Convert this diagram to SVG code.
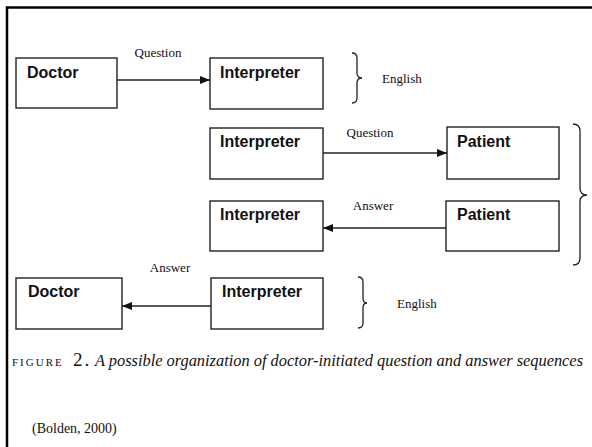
<svg xmlns="http://www.w3.org/2000/svg" width="592" height="447" viewBox="0 0 592 447">
<style>
.box{fill:#fff;stroke:#222;stroke-width:1.4}
.nt{font-family:"Liberation Sans",Arial,sans-serif;font-weight:bold;font-size:16px;fill:#111}
.lbl{font-family:"Liberation Serif","Times New Roman",serif;font-size:13px;fill:#111}
.edge{stroke:#222;stroke-width:1.3;fill:none}
.brace{stroke:#222;stroke-width:1.3;fill:none}
</style>
<defs>
<marker id="ah" viewBox="0 0 10 8" refX="10" refY="4" markerWidth="10" markerHeight="8" markerUnits="userSpaceOnUse" orient="auto">
<path d="M0,0 L10,4 L0,8 Z" fill="#111"/>
</marker>
</defs>
<rect width="592" height="447" fill="#fff"/>
<path d="M7,447 L7,7.5 L592,7.5" fill="none" stroke="#000" stroke-width="2.5"/>

<g id="doctor1"><rect class="box" x="16" y="58" width="101" height="50"/><text class="nt" x="27" y="78">Doctor</text></g>
<g id="interpreter1"><rect class="box" x="210" y="58" width="113" height="51"/><text class="nt" x="220" y="78">Interpreter</text></g>
<g id="interpreter2"><rect class="box" x="210" y="128" width="113" height="51"/><text class="nt" x="220" y="147">Interpreter</text></g>
<g id="patient1"><rect class="box" x="447" y="127" width="112" height="52"/><text class="nt" x="457" y="147">Patient</text></g>
<g id="interpreter3"><rect class="box" x="210" y="201" width="113" height="50"/><text class="nt" x="220" y="220">Interpreter</text></g>
<g id="patient2"><rect class="box" x="446" y="201" width="113" height="50"/><text class="nt" x="457" y="220">Patient</text></g>
<g id="doctor2"><rect class="box" x="16" y="278" width="106" height="51"/><text class="nt" x="28" y="297">Doctor</text></g>
<g id="interpreter4"><rect class="box" x="211" y="278" width="112" height="51"/><text class="nt" x="222" y="297">Interpreter</text></g>

<g id="connectors">
<line class="edge" x1="117" y1="80" x2="210" y2="80" marker-end="url(#ah)"/>
<text class="lbl" x="158" y="57" text-anchor="middle">Question</text>
<line class="edge" x1="323" y1="153" x2="447" y2="153" marker-end="url(#ah)"/>
<text class="lbl" x="370" y="137" text-anchor="middle">Question</text>
<line class="edge" x1="446" y1="228" x2="323" y2="228" marker-end="url(#ah)"/>
<text class="lbl" x="373" y="210" text-anchor="middle">Answer</text>
<line class="edge" x1="211" y1="306" x2="122" y2="306" marker-end="url(#ah)"/>
<text class="lbl" x="170" y="272" text-anchor="middle">Answer</text>
</g>

<g id="brace1">
<path class="brace" d="M352,53 Q357,53 357,58 L357,73 Q357,78 362,78 Q357,78 357,83 L357,98 Q357,103 352,103"/>
<text class="lbl" x="382" y="83">English</text>
</g>
<g id="brace2">
<path class="brace" d="M573,124 Q580,124 580,131 L580,188 Q580,195 587,195 Q580,195 580,202 L580,258 Q580,265 573,265"/>
</g>
<g id="brace3">
<path class="brace" d="M358,277 Q363,277 363,282 L363,298 Q363,303 367,303 Q363,303 363,308 L363,323 Q363,328 358,328"/>
<text class="lbl" x="397" y="308">English</text>
</g>

<g id="caption" font-family="'Liberation Serif','Times New Roman',serif" fill="#111">
<text x="12" y="366" font-size="11" letter-spacing="2">FIGURE</text>
<text x="73" y="366" font-size="19" letter-spacing="2">2.</text>
<text x="95" y="366" font-size="16" font-style="italic" textLength="488" lengthAdjust="spacingAndGlyphs">A possible organization of doctor-initiated question and answer sequences</text>
<text x="32" y="433" font-size="14">(Bolden, 2000)</text>
</g>
</svg>
